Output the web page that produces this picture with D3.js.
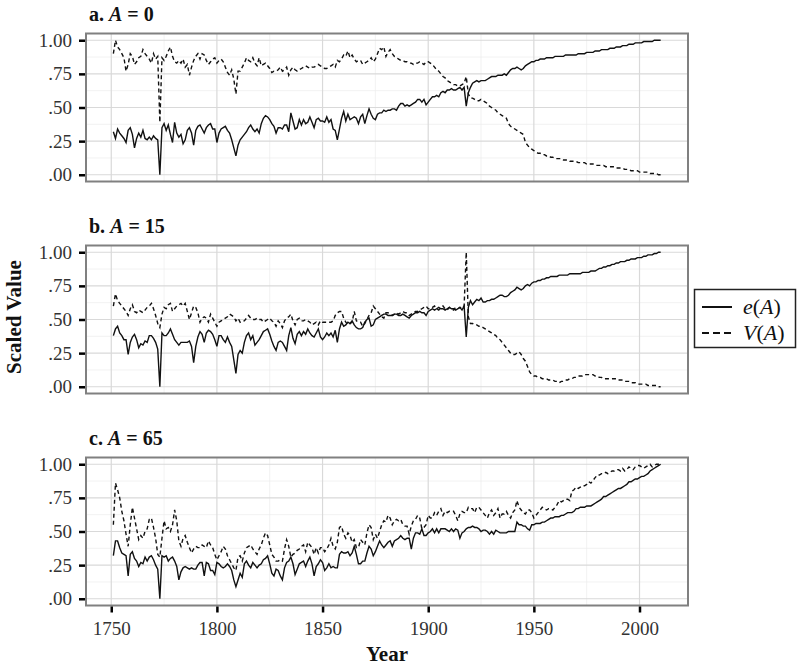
<!DOCTYPE html>
<html lang="en">
<head>
<meta charset="UTF-8">
<title>Scaled e(A) and V(A)</title>
<style>
  body { margin: 0; background: #fff; }
  svg text { font-family: "Liberation Serif", "DejaVu Serif", serif; }
</style>
</head>
<body>
<div class="canvas"></div>
<script src="https://cdnjs.cloudflare.com/ajax/libs/d3/7.8.5/d3.min.js"></script>
<script>
// years 1751..2010, one value per year
const years = d3.range(1751, 2011);

// panel a, A = 0
const eA0 = [
  .32,.27,.34,.31,.29,.27,.24,.33,.35,.30,
  .20,.27,.31,.28,.33,.27,.26,.28,.26,.29,
  .27,.26,.00,.35,.38,.33,.37,.30,.24,.39,
  .31,.28,.30,.23,.26,.33,.35,.31,.22,.33,
  .36,.37,.34,.31,.35,.37,.38,.34,.34,.24,
  .31,.34,.35,.36,.33,.31,.26,.20,.14,.22,
  .26,.28,.30,.32,.35,.37,.34,.32,.34,.31,
  .38,.42,.44,.43,.41,.38,.36,.31,.35,.35,
  .34,.37,.37,.32,.46,.40,.34,.35,.41,.37,
  .41,.38,.39,.43,.39,.35,.41,.42,.40,.40,
  .39,.43,.39,.41,.34,.33,.26,.34,.42,.47,
  .40,.45,.41,.42,.43,.42,.38,.43,.45,.38,
  .44,.49,.45,.42,.41,.45,.46,.46,.48,.47,
  .48,.48,.49,.49,.48,.51,.53,.53,.51,.52,
  .51,.52,.53,.54,.56,.56,.54,.56,.52,.54,
  .56,.58,.58,.59,.58,.61,.62,.61,.63,.63,
  .64,.63,.63,.64,.65,.63,.65,.51,.61,.65,
  .68,.69,.70,.69,.70,.70,.70,.71,.72,.73,
  .73,.73,.74,.74,.74,.75,.74,.76,.78,.79,
  .79,.80,.79,.78,.79,.81,.82,.83,.84,.84,
  .85,.85,.86,.86,.86,.87,.87,.87,.87,.88,
  .88,.88,.88,.88,.89,.89,.89,.89,.89,.89,
  .90,.90,.90,.90,.91,.91,.91,.91,.92,.92,
  .92,.93,.93,.93,.93,.94,.94,.94,.95,.95,
  .95,.96,.96,.96,.97,.97,.97,.98,.98,.98,
  .98,.99,.99,.99,.99,.99,1.00,1.00,1.00,1.00
];
const vA0 = [
  .90,1.00,.95,.93,.90,.87,.77,.82,.90,.88,
  .82,.84,.87,.88,.93,.90,.88,.86,.83,.90,
  .86,.88,.39,.87,.85,.88,.92,.95,.88,.84,
  .83,.85,.83,.86,.80,.82,.74,.80,.85,.88,
  .90,.86,.90,.89,.85,.82,.84,.86,.87,.83,
  .85,.86,.84,.80,.76,.74,.78,.71,.60,.77,
  .77,.80,.83,.87,.85,.84,.87,.83,.81,.87,
  .81,.82,.83,.81,.79,.76,.77,.77,.78,.80,
  .77,.78,.80,.74,.78,.80,.78,.77,.78,.79,
  .80,.81,.80,.79,.80,.80,.81,.82,.81,.80,
  .79,.79,.80,.81,.82,.80,.85,.84,.86,.89,
  .88,.92,.87,.89,.86,.84,.85,.85,.82,.83,
  .84,.85,.87,.84,.86,.90,.94,.93,.95,.88,
  .91,.93,.90,.88,.87,.86,.85,.85,.84,.84,
  .83,.83,.82,.83,.83,.84,.83,.82,.84,.84,
  .83,.82,.80,.78,.77,.75,.73,.72,.70,.69,
  .68,.67,.67,.66,.66,.67,.68,.73,.60,.57,
  .57,.56,.55,.55,.56,.55,.54,.53,.51,.50,
  .49,.48,.46,.45,.44,.43,.42,.38,.36,.35,
  .34,.33,.32,.31,.30,.24,.22,.20,.19,.18,
  .17,.16,.16,.15,.15,.14,.14,.13,.13,.12,
  .12,.12,.12,.11,.11,.11,.10,.10,.10,.10,
  .09,.09,.09,.09,.08,.08,.08,.08,.07,.07,
  .07,.07,.07,.06,.06,.06,.06,.06,.05,.05,
  .05,.05,.04,.04,.04,.03,.03,.03,.03,.02,
  .02,.02,.02,.02,.01,.01,.01,.01,.00,.00
];

// panel b, A = 15
const eA15 = [
  .38,.43,.45,.40,.38,.35,.35,.24,.33,.37,
  .39,.35,.29,.32,.31,.34,.33,.38,.38,.36,
  .33,.28,.00,.40,.38,.38,.40,.43,.39,.35,
  .33,.31,.33,.33,.33,.33,.34,.30,.18,.30,
  .37,.41,.39,.33,.40,.42,.41,.39,.35,.30,
  .38,.38,.35,.33,.37,.33,.30,.20,.10,.24,
  .27,.25,.33,.38,.40,.35,.38,.31,.33,.35,
  .38,.41,.42,.43,.39,.34,.30,.27,.33,.34,
  .33,.30,.27,.38,.44,.36,.32,.39,.41,.38,
  .41,.39,.43,.40,.38,.37,.40,.43,.37,.35,
  .37,.40,.38,.40,.37,.42,.33,.43,.48,.45,
  .46,.48,.47,.49,.46,.44,.43,.43,.44,.48,
  .50,.51,.45,.46,.50,.51,.52,.53,.54,.54,
  .53,.53,.53,.54,.54,.53,.53,.54,.53,.52,
  .51,.53,.54,.55,.55,.56,.55,.55,.53,.56,
  .57,.58,.57,.58,.59,.58,.58,.57,.58,.59,
  .58,.58,.57,.58,.59,.57,.60,.37,.59,.64,
  .61,.63,.65,.64,.66,.63,.63,.64,.64,.65,
  .65,.66,.67,.68,.68,.67,.67,.68,.70,.71,
  .72,.74,.73,.72,.73,.75,.76,.75,.77,.78,
  .78,.79,.79,.80,.80,.81,.81,.82,.82,.82,
  .82,.83,.83,.83,.83,.83,.84,.84,.84,.84,
  .84,.84,.85,.85,.85,.85,.86,.86,.86,.87,
  .88,.88,.89,.89,.90,.90,.91,.91,.92,.92,
  .93,.93,.93,.94,.94,.95,.95,.95,.96,.96,
  .96,.97,.97,.98,.98,.98,.99,.99,1.00,1.00
];
const vA15 = [
  .60,.69,.64,.62,.60,.58,.56,.53,.58,.61,
  .56,.55,.57,.56,.55,.57,.59,.60,.62,.58,
  .53,.47,.44,.54,.59,.58,.61,.62,.56,.58,
  .60,.61,.62,.60,.62,.56,.50,.55,.60,.59,
  .55,.48,.51,.52,.51,.48,.54,.51,.48,.45,
  .48,.49,.50,.51,.52,.54,.53,.52,.49,.51,
  .48,.49,.49,.51,.53,.51,.50,.50,.51,.50,
  .50,.48,.49,.50,.51,.49,.48,.45,.49,.47,
  .44,.49,.51,.52,.54,.49,.46,.50,.51,.49,
  .49,.50,.49,.48,.46,.47,.48,.46,.49,.48,
  .48,.48,.48,.48,.49,.53,.55,.56,.56,.51,
  .48,.46,.47,.48,.56,.49,.48,.48,.45,.47,
  .50,.53,.55,.60,.58,.56,.54,.52,.51,.55,
  .55,.54,.53,.54,.55,.54,.55,.56,.55,.55,
  .53,.54,.55,.56,.56,.57,.58,.59,.60,.58,
  .58,.59,.60,.58,.57,.59,.60,.58,.57,.59,
  .58,.57,.59,.58,.59,.58,.60,1.00,.52,.47,
  .47,.46,.46,.45,.45,.44,.43,.42,.41,.40,
  .39,.38,.36,.35,.33,.31,.29,.27,.25,.24,
  .24,.25,.26,.24,.21,.19,.15,.11,.09,.08,
  .08,.07,.07,.06,.06,.06,.05,.05,.05,.04,
  .04,.03,.04,.04,.05,.05,.06,.06,.07,.07,
  .08,.08,.08,.09,.09,.09,.09,.09,.08,.08,
  .07,.07,.06,.06,.06,.06,.06,.06,.06,.05,
  .05,.05,.04,.04,.04,.03,.03,.03,.02,.02,
  .02,.02,.02,.01,.01,.01,.01,.01,.00,.00
];

// panel c, A = 65
const eA65 = [
  .32,.43,.43,.38,.34,.33,.32,.17,.33,.35,
  .30,.28,.24,.27,.26,.31,.28,.31,.32,.29,
  .25,.22,.00,.32,.31,.32,.28,.30,.31,.28,
  .24,.14,.20,.23,.24,.23,.22,.23,.22,.22,
  .25,.27,.27,.17,.27,.26,.21,.21,.18,.27,
  .26,.24,.23,.24,.26,.24,.21,.14,.09,.14,
  .19,.16,.26,.28,.25,.23,.27,.25,.23,.25,
  .26,.29,.30,.32,.26,.19,.17,.22,.21,.17,
  .14,.23,.27,.28,.31,.26,.18,.22,.26,.27,
  .28,.24,.28,.31,.26,.17,.24,.26,.29,.27,
  .21,.23,.26,.23,.24,.23,.23,.33,.35,.34,
  .34,.35,.32,.34,.39,.33,.26,.26,.28,.28,
  .34,.39,.37,.32,.35,.39,.43,.40,.38,.40,
  .42,.43,.39,.43,.44,.45,.47,.45,.44,.45,
  .45,.37,.45,.49,.49,.48,.52,.47,.47,.49,
  .50,.52,.49,.52,.49,.52,.52,.52,.51,.50,
  .52,.50,.52,.51,.45,.49,.50,.52,.53,.53,
  .54,.53,.53,.52,.50,.51,.51,.50,.48,.50,
  .48,.51,.50,.49,.49,.49,.49,.50,.50,.50,
  .50,.57,.55,.55,.54,.54,.52,.51,.55,.55,
  .56,.56,.56,.57,.57,.58,.59,.60,.60,.61,
  .61,.61,.62,.62,.63,.64,.64,.64,.65,.67,
  .67,.68,.68,.68,.69,.69,.69,.70,.71,.72,
  .73,.74,.76,.76,.77,.78,.79,.80,.81,.82,
  .82,.83,.84,.85,.87,.87,.88,.89,.89,.90,
  .91,.91,.92,.93,.95,.96,.97,.98,.99,1.00
];
const vA65 = [
  .55,.86,.81,.75,.65,.58,.48,.39,.55,.68,
  .60,.52,.44,.47,.45,.50,.52,.59,.60,.53,
  .45,.33,.31,.45,.58,.52,.53,.50,.55,.66,
  .58,.43,.39,.45,.47,.42,.38,.34,.37,.39,
  .38,.38,.40,.39,.38,.43,.40,.38,.33,.29,
  .32,.35,.39,.37,.32,.29,.26,.23,.21,.31,
  .32,.28,.34,.38,.39,.40,.37,.35,.33,.37,
  .40,.45,.49,.47,.40,.33,.31,.28,.28,.29,
  .28,.37,.44,.39,.31,.33,.34,.36,.37,.39,
  .40,.35,.42,.40,.38,.33,.38,.34,.38,.38,
  .35,.37,.40,.45,.39,.37,.42,.53,.54,.48,
  .45,.49,.47,.42,.44,.38,.38,.44,.42,.40,
  .49,.55,.53,.44,.48,.45,.50,.55,.58,.57,
  .62,.60,.55,.58,.59,.58,.59,.55,.54,.54,
  .48,.54,.58,.59,.62,.60,.52,.53,.55,.62,
  .60,.60,.64,.62,.65,.67,.62,.65,.64,.65,
  .65,.65,.62,.58,.63,.65,.64,.64,.68,.67,
  .67,.64,.68,.68,.66,.64,.62,.60,.64,.66,
  .62,.64,.67,.60,.63,.63,.65,.62,.60,.64,
  .66,.73,.68,.66,.64,.63,.66,.66,.64,.60,
  .62,.64,.66,.68,.67,.66,.67,.67,.66,.68,
  .70,.73,.72,.73,.74,.74,.73,.80,.81,.83,
  .82,.83,.84,.84,.85,.87,.86,.88,.90,.92,
  .92,.93,.93,.94,.93,.94,.95,.95,.96,.96,
  .95,.97,.95,.96,.98,.97,.96,.98,.99,.99,
  .98,.97,.98,.99,1.00,.98,.99,1.00,1.00,1.00
];

const panelTags = ["a.", "b.", "c."];
const panelAges = ["0", "15", "65"];
const eSeries = [eA0, eA15, eA65];
const vSeries = [vA0, vA15, vA65];

const yTicks = [0, .25, .5, .75, 1];
const yTickLabels = [".00", ".25", ".50", ".75", "1.00"];
const yMinor = [.125, .375, .625, .875];
const xTicks = [1750, 1800, 1850, 1900, 1950, 2000];
const xMinor = [1775, 1825, 1875, 1925, 1975];

const width = 800, height = 665;
const plotLeft = 86, plotRight = 688, panelH = 148;
const panelTops = [33.5, 245.5, 457.5];
const serif = '"Liberation Serif", "DejaVu Serif", serif';

const svg = d3.select(".canvas").append("svg")
  .attr("width", width)
  .attr("height", height);

// ggplot style 5% expansion
const [yr0, yr1] = d3.extent(years);
const xpad = (yr1 - yr0) * 0.05;
const x = d3.scaleLinear().domain([yr0 - xpad, yr1 + xpad]).range([plotLeft, plotRight]);

panelTags.forEach((tag, i) => {
  const top = panelTops[i];
  const y = d3.scaleLinear().domain([-0.05, 1.05]).range([top + panelH, top]);
  const g = svg.append("g");

  // grid
  g.selectAll(".ymin").data(yMinor).enter().append("line")
    .attr("x1", plotLeft).attr("x2", plotRight)
    .attr("y1", d => y(d)).attr("y2", d => y(d))
    .attr("stroke", "#ededed").attr("stroke-width", 0.7);
  g.selectAll(".xmin").data(xMinor).enter().append("line")
    .attr("x1", d => x(d)).attr("x2", d => x(d))
    .attr("y1", top).attr("y2", top + panelH)
    .attr("stroke", "#ededed").attr("stroke-width", 0.7);
  g.selectAll(".ymaj").data(yTicks).enter().append("line")
    .attr("x1", plotLeft).attr("x2", plotRight)
    .attr("y1", d => y(d)).attr("y2", d => y(d))
    .attr("stroke", "#d9d9d9").attr("stroke-width", 1.2);
  g.selectAll(".xmaj").data(xTicks).enter().append("line")
    .attr("x1", d => x(d)).attr("x2", d => x(d))
    .attr("y1", top).attr("y2", top + panelH)
    .attr("stroke", "#d9d9d9").attr("stroke-width", 1.2);

  const line = d3.line()
    .x((d, j) => x(years[j]))
    .y(d => y(d));

  g.append("path").datum(eSeries[i])
    .attr("d", line)
    .attr("fill", "none")
    .attr("stroke", "#111")
    .attr("stroke-width", 1.4);

  g.append("path").datum(vSeries[i])
    .attr("d", line)
    .attr("fill", "none")
    .attr("stroke", "#111")
    .attr("stroke-width", 1.4)
    .attr("stroke-dasharray", "4,3");

  g.append("rect")
    .attr("x", plotLeft).attr("y", top)
    .attr("width", plotRight - plotLeft).attr("height", panelH)
    .attr("fill", "none")
    .attr("stroke", "#808080")
    .attr("stroke-width", 2);

  const yAxis = d3.axisLeft(y)
    .tickValues(yTicks)
    .tickFormat((d, k) => yTickLabels[k])
    .tickSize(6)
    .tickPadding(7);
  const ya = g.append("g")
    .attr("transform", `translate(${plotLeft - 1},0)`)
    .call(yAxis)
    .attr("font-family", serif)
    .attr("font-size", 19);
  ya.select(".domain").remove();
  ya.selectAll("line").attr("stroke", "#000").attr("stroke-width", 2.5);
  ya.selectAll("text").attr("fill", "#333");

  const title = g.append("text")
    .attr("x", 89).attr("y", top - 13)
    .attr("font-size", 20)
    .attr("font-weight", "bold")
    .attr("fill", "#111");
  title.append("tspan").text(tag + " ");
  title.append("tspan").attr("font-style", "italic").text("A");
  title.append("tspan").text(" = " + panelAges[i]);

  if (i === panelTags.length - 1) {
    const xAxis = d3.axisBottom(x)
      .tickValues(xTicks)
      .tickFormat(d3.format("d"))
      .tickSize(6)
      .tickPadding(9);
    const xa = g.append("g")
      .attr("transform", `translate(0,${top + panelH + 1})`)
      .call(xAxis)
      .attr("font-family", serif)
      .attr("font-size", 19);
    xa.select(".domain").remove();
    xa.selectAll("line").attr("stroke", "#000").attr("stroke-width", 2.5);
    xa.selectAll("text").attr("fill", "#333");
  }
});

// axis titles
svg.append("text")
  .attr("x", (plotLeft + plotRight) / 2)
  .attr("y", 661)
  .attr("text-anchor", "middle")
  .attr("font-size", 21)
  .attr("font-weight", "bold")
  .attr("fill", "#111")
  .text("Year");

svg.append("text")
  .attr("transform", "translate(21,317) rotate(-90)")
  .attr("text-anchor", "middle")
  .attr("font-size", 21)
  .attr("font-weight", "bold")
  .attr("fill", "#111")
  .text("Scaled Value");

// legend
const legend = svg.append("g");
legend.append("rect")
  .attr("x", 694.5).attr("y", 289.5)
  .attr("width", 101).attr("height", 58)
  .attr("fill", "#fff")
  .attr("stroke", "#222")
  .attr("stroke-width", 1.5);

const legendItems = [
  { parts: ["e", "(", "A", ")"], dash: null, y: 307 },
  { parts: ["V", "(", "A", ")"], dash: "7,4", y: 333 }
];
legendItems.forEach(item => {
  legend.append("line")
    .attr("x1", 702).attr("x2", 732)
    .attr("y1", item.y).attr("y2", item.y)
    .attr("stroke", "#111")
    .attr("stroke-width", 2)
    .attr("stroke-dasharray", item.dash);
  const t = legend.append("text")
    .attr("x", 743).attr("y", item.y)
    .attr("dy", "0.33em")
    .attr("font-size", 22)
    .attr("fill", "#111");
  item.parts.forEach((p, k) => {
    t.append("tspan")
      .attr("font-style", k % 2 === 0 ? "italic" : "normal")
      .text(p);
  });
});
</script>
</body>
</html>
